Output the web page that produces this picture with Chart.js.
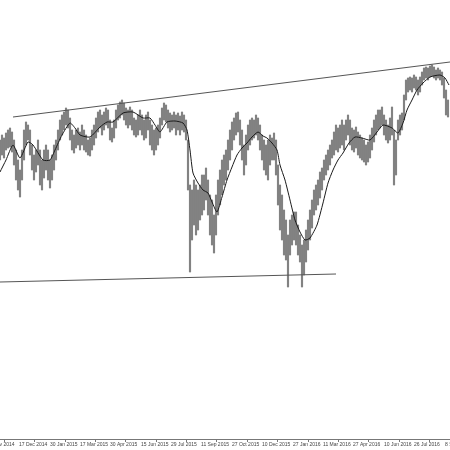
<!DOCTYPE html>
<html>
<head>
<meta charset="utf-8">
<script src="https://cdn.jsdelivr.net/npm/chart.js@4"></script>
<style>
  html, body { margin: 0; padding: 0; background: #fff; }
  canvas { display: block; }
</style>
</head>
<body>
<canvas id="chart" width="450" height="450"></canvas>
<script>
// Daily high / low, one bar every second trading day (day index 0, 2, 4, ...)
const highs = [
  2160, 2165, 2162, 2167, 2170, 2172, 2168, 2160, 2150, 2140,
  2130, 2150, 2170, 2178, 2175, 2170, 2155, 2145, 2150, 2160,
  2150, 2140, 2150, 2155, 2150, 2140, 2145, 2155, 2160, 2170,
  2180, 2185, 2188, 2192, 2190, 2182, 2170, 2165, 2170, 2172,
  2168, 2175, 2170, 2165, 2160, 2162, 2170, 2175, 2182, 2188,
  2190, 2185, 2188, 2192, 2190, 2180, 2172, 2180, 2190, 2195,
  2198, 2200, 2197, 2192, 2190, 2193, 2190, 2182, 2180, 2185,
  2190, 2185, 2180, 2185, 2188, 2180, 2175, 2170, 2172, 2175,
  2182, 2192, 2197, 2195, 2190, 2187, 2185, 2188, 2185, 2187,
  2184, 2188, 2185, 2180, 2160, 2115, 2110, 2120, 2115, 2110,
  2115, 2125, 2125, 2132, 2120, 2105, 2100, 2085, 2105, 2120,
  2130, 2140, 2145, 2150, 2160, 2170, 2178, 2182, 2187, 2188,
  2180, 2170, 2155, 2165, 2175, 2180, 2182, 2180, 2185, 2182,
  2175, 2165, 2160, 2155, 2160, 2165, 2162, 2167, 2160, 2135,
  2115, 2105, 2090, 2080, 2065, 2080, 2085, 2088, 2088, 2075,
  2065, 2055, 2060, 2070, 2080, 2090, 2100, 2110, 2115, 2120,
  2128, 2132, 2140, 2145, 2150, 2155, 2160, 2168, 2175, 2172,
  2175, 2180, 2175, 2180, 2185, 2180, 2172, 2170, 2173, 2168,
  2165, 2162, 2160, 2155, 2158, 2165, 2172, 2180, 2185, 2190,
  2190, 2193, 2185, 2180, 2175, 2182, 2193, 2170, 2160, 2180,
  2185, 2187, 2205, 2220, 2222, 2223, 2222, 2225, 2223, 2220,
  2223, 2228, 2232, 2233, 2232, 2234, 2235, 2233, 2230, 2232,
  2230, 2228, 2222, 2210, 2200
];
const lows = [
  2140, 2145, 2142, 2150, 2152, 2153, 2148, 2135, 2120, 2110,
  2103, 2120, 2140, 2155, 2160, 2145, 2130, 2120, 2128, 2135,
  2115, 2110, 2122, 2130, 2120, 2112, 2120, 2130, 2140, 2150,
  2160, 2165, 2170, 2175, 2172, 2160, 2150, 2147, 2152, 2155,
  2150, 2155, 2150, 2148, 2145, 2144, 2150, 2155, 2162, 2168,
  2172, 2165, 2170, 2175, 2172, 2160, 2158, 2162, 2172, 2180,
  2182, 2185, 2180, 2175, 2172, 2175, 2170, 2165, 2163, 2165,
  2170, 2165, 2160, 2162, 2170, 2155, 2150, 2145, 2150, 2155,
  2162, 2175, 2180, 2178, 2172, 2168, 2170, 2172, 2165, 2170,
  2165, 2170, 2168, 2160, 2110, 2028, 2060, 2075, 2065, 2070,
  2080, 2085, 2090, 2100, 2085, 2065, 2055, 2047, 2065, 2085,
  2095, 2105, 2115, 2120, 2130, 2140, 2150, 2160, 2165, 2168,
  2155, 2140, 2125, 2135, 2150, 2155, 2160, 2162, 2165, 2160,
  2150, 2140, 2130, 2125, 2120, 2135, 2140, 2140, 2125, 2095,
  2070, 2060, 2045, 2040, 2013, 2045, 2055, 2060, 2055, 2045,
  2038, 2013, 2025, 2038, 2050, 2060, 2072, 2085, 2090, 2095,
  2102, 2110, 2120, 2125, 2130, 2135, 2142, 2145, 2150, 2148,
  2152, 2155, 2150, 2160, 2165, 2155, 2150, 2148, 2152, 2145,
  2142, 2140, 2138, 2135, 2138, 2142, 2150, 2158, 2165, 2170,
  2172, 2175, 2165, 2160, 2157, 2160, 2165, 2115, 2125, 2160,
  2165, 2170, 2180, 2200, 2208, 2210, 2208, 2212, 2210, 2205,
  2208, 2215, 2220, 2222, 2220, 2223, 2224, 2222, 2220, 2222,
  2220, 2215, 2202, 2185, 2183
];

// Moving average line
const maDays = [
  0, 6, 13, 20, 28, 33, 43, 50, 55, 62, 70, 75, 80, 90, 100, 107, 113, 123, 133, 143,
  150, 155, 160, 167, 175, 183, 187, 190, 193, 198, 203, 208, 212, 217, 222, 227, 232, 237, 242, 247,
  252, 258, 263, 267, 272, 277, 280, 285, 290, 295, 300, 305, 310, 317, 323, 328, 333, 338, 343, 349,
  355, 362, 370, 377, 383, 392, 398, 403, 407, 412, 417, 423, 430, 440, 445, 449
];
const maValues = [
  2128, 2140, 2155, 2142, 2158, 2155, 2140, 2140, 2150, 2165, 2177, 2172, 2165, 2163, 2173, 2178, 2178, 2187, 2188, 2182,
  2182, 2175, 2168, 2178, 2179, 2177, 2170, 2150, 2127, 2117, 2110, 2107, 2098, 2088, 2103, 2120, 2133, 2145, 2152, 2157,
  2163, 2168, 2164, 2162, 2157, 2150, 2135, 2120, 2100, 2080, 2068, 2060, 2062, 2075, 2097, 2117, 2130, 2140, 2147, 2157,
  2163, 2162, 2160, 2168, 2175, 2172, 2167, 2177, 2190, 2200, 2210, 2217, 2223, 2225, 2222, 2215
];

// Trend lines
const upperDays = [13, 450];
const upperValues = [2183, 2238];
const lowerDays = [0, 336];
const lowerValues = [2018, 2026];

// Axis ticks
const tickDays = [-11, 19, 50, 80, 110, 141, 171, 201, 232, 262, 293, 323, 353, 384, 414, 445];
const tickLabels = [
  '3 Nov 2014', '17 Dec 2014', '30 Jan 2015', '17 Mar 2015', '30 Apr 2015', '15 Jun 2015',
  '29 Jul 2015', '11 Sep 2015', '27 Oct 2015', '10 Dec 2015', '27 Jan 2016', '11 Mar 2016',
  '27 Apr 2016', '10 Jun 2016', '26 Jul 2016', '8 Sep 2016'
];

const bars = highs.map((h, i) => ({ x: i * 2, y: [lows[i], h] }));
const toPoints = (days, vals) => days.map((d, i) => ({ x: d, y: vals[i] }));

new Chart(document.getElementById('chart'), {
  type: 'bar',
  data: {
    datasets: [{
      type: 'line',
      data: toPoints(maDays, maValues),
      borderColor: '#1a1a1a',
      borderWidth: 1,
      pointRadius: 0,
      tension: 0.2,
      order: 1
    }, {
      type: 'line',
      data: toPoints(upperDays, upperValues),
      borderColor: '#555',
      borderWidth: 1,
      pointRadius: 0,
      order: 1
    }, {
      type: 'line',
      data: toPoints(lowerDays, lowerValues),
      borderColor: '#555',
      borderWidth: 1,
      pointRadius: 0,
      order: 1
    }, {
      data: bars,
      backgroundColor: '#828282',
      barThickness: 1.5,
      grouped: false,
      order: 3
    }]
  },
  options: {
    responsive: false,
    animation: false,
    events: [],
    plugins: { legend: { display: false }, tooltip: { enabled: false } },
    layout: { padding: 0 },
    scales: {
      x: {
        type: 'linear',
        min: 0,
        max: 450,
        offset: false,
        afterBuildTicks: axis => { axis.ticks = tickDays.map(v => ({ value: v })); },
        afterFit: axis => { axis.height = 11; axis.paddingLeft = 0; axis.paddingRight = 0; },
        grid: { display: true, drawOnChartArea: false, tickLength: 3, color: '#777' },
        border: { display: true, color: '#777' },
        ticks: {
          autoSkip: false,
          maxRotation: 0,
          align: 'start',
          padding: 0,
          color: '#444',
          font: { family: 'Liberation Sans', size: 5 },
          callback: (v) => tickLabels[tickDays.indexOf(v)]
        }
      },
      y: {
        display: false,
        min: 1861,
        max: 2300
      }
    }
  }
});
</script>
</body>
</html>
